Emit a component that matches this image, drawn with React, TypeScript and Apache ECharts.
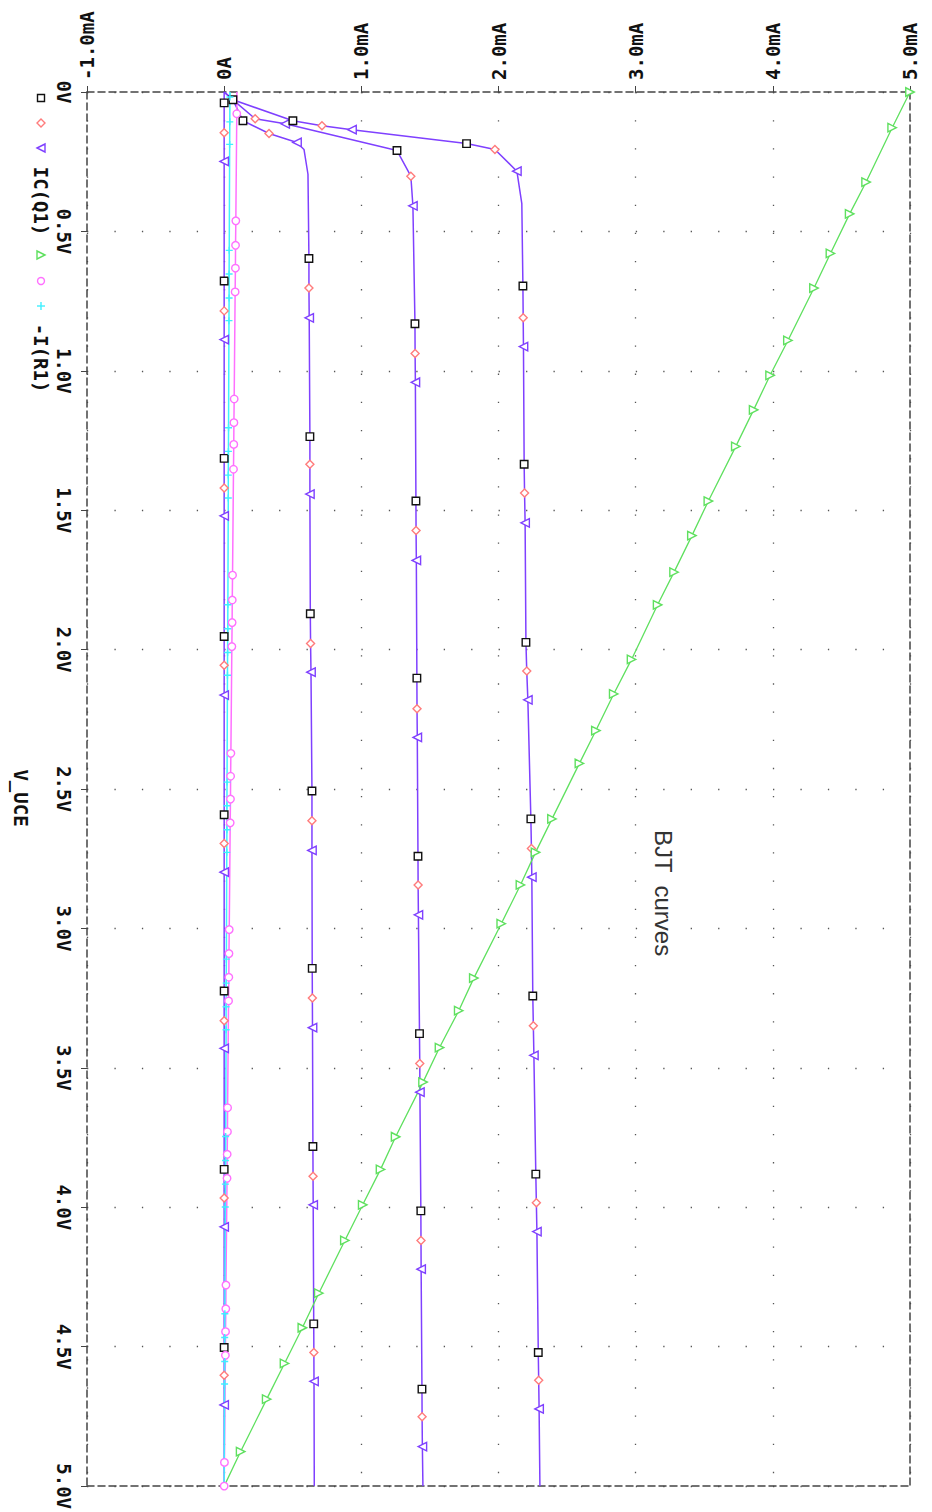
import React, { useEffect, useRef } from "react";
import * as echarts from "echarts";

// Axis ranges / ticks
const currentMin = -1; // mA
const currentMax = 5;
const currentStep = 1;
const voltageMin = 0; // V
const voltageMax = 5;
const voltageStep = 0.5;

const axisTitle = "V_UCE";
const plotNote = "BJT  curves";
const legendLabels = ["IC(Q1)", "-I(R1)"];

// Each point: [V_UCE (V), current (mA), marker code]
// marker codes: 0 none, 1 square, 2 diamond, 3 triangle (IC family)
//               4 green triangle, 5 circle, 6 plus (-I(R1) family)
const icCurveA: number[][] = [
  [0, 0, 0], [0.039, 0, 1], [0.146, 0, 2], [0.249, 0, 3],
  [0.678, 0, 1], [0.785, 0, 2], [0.888, 0, 3],
  [1.314, 0, 1], [1.42, 0, 2], [1.52, 0, 3],
  [1.953, 0, 1], [2.056, 0, 2], [2.163, 0, 3],
  [2.592, 0, 1], [2.695, 0, 2], [2.798, 0, 3],
  [3.224, 0, 1], [3.331, 0, 2], [3.43, 0, 3],
  [3.864, 0, 1], [3.967, 0, 2], [4.07, 0, 3],
  [4.503, 0, 1], [4.602, 0, 2], [4.709, 0, 3],
  [5.0, 0, 0],
];

const icCurveB: number[][] = [
  [0, 0, 0], [0.028, 0.064, 0], [0.103, 0.137, 1], [0.149, 0.327, 2], [0.181, 0.531, 3],
  [0.206, 0.582, 0], [0.295, 0.611, 0],
  [0.597, 0.618, 1], [0.703, 0.618, 2], [0.81, 0.62, 3],
  [1.236, 0.625, 1], [1.335, 0.625, 2], [1.442, 0.625, 3],
  [1.871, 0.628, 1], [1.978, 0.63, 2], [2.081, 0.633, 3],
  [2.507, 0.64, 1], [2.614, 0.64, 2], [2.72, 0.64, 3],
  [3.143, 0.642, 1], [3.249, 0.643, 2], [3.356, 0.644, 3],
  [3.782, 0.647, 1], [3.889, 0.648, 2], [3.991, 0.649, 3],
  [4.418, 0.653, 1], [4.521, 0.654, 2], [4.624, 0.655, 3],
  [5.0, 0.657, 0],
];

const icCurveC: number[][] = [
  [0, 0, 0], [0.028, 0.064, 1], [0.096, 0.226, 2], [0.114, 0.445, 3],
  [0.21, 1.26, 1], [0.302, 1.361, 2], [0.408, 1.376, 3],
  [0.831, 1.391, 1], [0.938, 1.392, 2], [1.041, 1.394, 3],
  [1.467, 1.398, 1], [1.573, 1.399, 2], [1.68, 1.401, 3],
  [2.102, 1.405, 1], [2.212, 1.406, 2], [2.315, 1.408, 3],
  [2.741, 1.413, 1], [2.844, 1.414, 2], [2.951, 1.416, 3],
  [3.377, 1.424, 1], [3.484, 1.426, 2], [3.587, 1.427, 3],
  [4.013, 1.434, 1], [4.119, 1.435, 2], [4.222, 1.436, 3],
  [4.652, 1.442, 1], [4.751, 1.443, 2], [4.858, 1.445, 3],
  [5.0, 1.449, 0],
];

const icCurveD: number[][] = [
  [0, 0, 0], [0.028, 0.064, 0], [0.103, 0.501, 1], [0.121, 0.713, 2], [0.135, 0.932, 3],
  [0.185, 1.767, 1], [0.206, 1.974, 2], [0.284, 2.134, 3], [0.4, 2.17, 0],
  [0.696, 2.178, 1], [0.81, 2.18, 2], [0.913, 2.182, 3],
  [1.335, 2.187, 1], [1.438, 2.19, 2], [1.545, 2.194, 3],
  [1.974, 2.2, 1], [2.077, 2.206, 2], [2.18, 2.214, 3],
  [2.607, 2.236, 1], [2.713, 2.24, 2], [2.816, 2.243, 3],
  [3.242, 2.25, 1], [3.349, 2.254, 2], [3.455, 2.258, 3],
  [3.881, 2.272, 1], [3.984, 2.276, 2], [4.087, 2.28, 3],
  [4.521, 2.29, 1], [4.62, 2.293, 2], [4.723, 2.296, 3],
  [5.0, 2.302, 0],
];

const loadLineGreen: number[][] = [
  [0, 5.0, 4], [0.128, 4.87, 4],
  [0.323, 4.68, 4], [0.437, 4.56, 4], [0.579, 4.42, 4], [0.703, 4.3, 4],
  [0.891, 4.11, 4], [1.016, 3.98, 4], [1.14, 3.86, 4], [1.271, 3.73, 4],
  [1.467, 3.53, 4], [1.591, 3.41, 4], [1.722, 3.28, 4], [1.839, 3.16, 4],
  [2.035, 2.97, 4], [2.159, 2.84, 4], [2.29, 2.71, 4], [2.408, 2.59, 4],
  [2.607, 2.39, 4], [2.727, 2.27, 4], [2.844, 2.16, 4], [2.983, 2.02, 4],
  [3.178, 1.82, 4], [3.295, 1.71, 4], [3.427, 1.57, 4], [3.551, 1.45, 4],
  [3.747, 1.25, 4], [3.864, 1.14, 4], [3.991, 1.01, 4], [4.119, 0.88, 4],
  [4.308, 0.69, 4], [4.432, 0.57, 4], [4.56, 0.44, 4], [4.688, 0.31, 4],
  [4.876, 0.12, 4], [5.0, 0, 0],
];

const loadLineMagenta: number[][] = [
  [0, 0.093, 0], [0.078, 0.092, 5],
  [0.462, 0.085, 5], [0.55, 0.083, 5], [0.632, 0.082, 5], [0.717, 0.08, 5],
  [1.101, 0.073, 5], [1.186, 0.071, 5], [1.264, 0.07, 5], [1.353, 0.068, 5],
  [1.733, 0.061, 5], [1.822, 0.059, 5], [1.903, 0.058, 5], [1.989, 0.056, 5],
  [2.372, 0.049, 5], [2.454, 0.047, 5], [2.536, 0.046, 5], [2.621, 0.044, 5],
  [3.004, 0.037, 5], [3.09, 0.035, 5], [3.175, 0.034, 5], [3.26, 0.032, 5],
  [3.643, 0.025, 5], [3.729, 0.024, 5], [3.81, 0.022, 5], [3.896, 0.021, 5],
  [4.279, 0.013, 5], [4.364, 0.012, 5], [4.446, 0.01, 5], [4.531, 0.009, 5],
  [4.915, 0.002, 5], [5.0, 0, 5],
];

const loadLineCyan: number[][] = [
  [0, 0.042, 0], [0.018, 0.042, 6], [0.107, 0.041, 6], [0.188, 0.04, 6],
  [0.568, 0.037, 6], [0.653, 0.036, 6], [0.739, 0.036, 6], [0.82, 0.035, 6],
  [1.204, 0.032, 6], [1.289, 0.031, 6], [1.374, 0.03, 6], [1.456, 0.03, 6],
  [1.839, 0.027, 6], [1.925, 0.026, 6], [2.01, 0.025, 6], [2.092, 0.024, 6],
  [2.475, 0.021, 6], [2.56, 0.02, 6], [2.646, 0.02, 6], [2.727, 0.019, 6],
  [3.11, 0.016, 6], [3.196, 0.015, 6], [3.281, 0.014, 6], [3.363, 0.014, 6],
  [3.746, 0.011, 6], [3.832, 0.01, 6], [3.917, 0.009, 6], [3.999, 0.008, 6],
  [4.382, 0.005, 6], [4.467, 0.004, 6], [4.553, 0.004, 6], [4.634, 0.003, 6],
  [5.0, 0, 0],
];

const PURPLE = "#7f40ff";
const GREEN = "#5fe05f";
const MAGENTA = "#ff70ff";
const CYAN = "#3ff0ff";
const SALMON = "#ff7c7c";
const BLACK = "#111";

const MONO = "'DejaVu Sans Mono', 'Liberation Mono', monospace";
const LABEL_SIZE = 19;

const markerStyles: Record<number, { symbol: string; size: number; rotate: number; stroke: string }> = {
  1: { symbol: "rect", size: 7.5, rotate: 0, stroke: BLACK },
  2: { symbol: "diamond", size: 8, rotate: 0, stroke: SALMON },
  3: { symbol: "triangle", size: 8.5, rotate: 90, stroke: PURPLE },
  4: { symbol: "triangle", size: 8.5, rotate: -90, stroke: GREEN },
  5: { symbol: "circle", size: 7.5, rotate: 0, stroke: MAGENTA },
  6: { symbol: "path://M5,0L5,10M0,5L10,5", size: 7, rotate: 0, stroke: CYAN },
};

function toSeriesData(points: number[][]) {
  return points.map((p) => {
    const m = markerStyles[p[2]];
    if (!m) return { value: [p[1], p[0]], symbol: "none" };
    return {
      value: [p[1], p[0]],
      symbol: m.symbol,
      symbolSize: m.size,
      symbolRotate: m.rotate,
      itemStyle: {
        color: p[2] === 6 ? "none" : "#fff",
        borderColor: m.stroke,
        borderWidth: 1.4,
      },
    };
  });
}

function lineSeries(points: number[][], color: string, width: number) {
  return {
    type: "line",
    xAxisIndex: 0,
    yAxisIndex: 0,
    data: toSeriesData(points),
    showSymbol: true,
    showAllSymbol: true,
    lineStyle: { color, width },
    itemStyle: { color },
    silent: true,
    animation: false,
  };
}

const dashedFrame = { color: "#444", width: 1.5, type: [7, 4] };

function rotatedText(text: string, x: number, y: number, font: string, fill: string) {
  return {
    type: "text",
    x,
    y,
    rotation: -Math.PI / 2,
    style: { text, font, fill, align: "center", verticalAlign: "middle" },
  };
}

export default function App() {
  const ref = useRef<HTMLDivElement>(null);

  useEffect(() => {
    if (!ref.current) return;
    const chart = echarts.init(ref.current, undefined, { renderer: "svg" });
    const monoFont = `bold ${LABEL_SIZE}px ${MONO}`;

    const legendGraphics: any[] = [
      {
        type: "rect",
        shape: { x: 37.5, y: 94.5, width: 7, height: 7 },
        style: { fill: "#fff", stroke: BLACK, lineWidth: 1.4 },
      },
      {
        type: "polygon",
        shape: { points: [[41, 119], [45, 123], [41, 127], [37, 123]] },
        style: { fill: "#fff", stroke: SALMON, lineWidth: 1.4 },
      },
      {
        type: "polygon",
        shape: { points: [[37, 148], [45, 144], [45, 152]] },
        style: { fill: "#fff", stroke: PURPLE, lineWidth: 1.4 },
      },
      rotatedText(legendLabels[0], 41, 201, monoFont, BLACK),
      {
        type: "polygon",
        shape: { points: [[45, 255], [37, 251], [37, 259]] },
        style: { fill: "#fff", stroke: GREEN, lineWidth: 1.4 },
      },
      {
        type: "circle",
        shape: { cx: 41, cy: 281, r: 3.5 },
        style: { fill: "#fff", stroke: MAGENTA, lineWidth: 1.4 },
      },
      {
        type: "line",
        shape: { x1: 41, y1: 302, x2: 41, y2: 310 },
        style: { stroke: CYAN, lineWidth: 1.4 },
      },
      {
        type: "line",
        shape: { x1: 37, y1: 306, x2: 45, y2: 306 },
        style: { stroke: CYAN, lineWidth: 1.4 },
      },
      rotatedText(legendLabels[1], 41, 358, monoFont, BLACK),
      rotatedText(axisTitle, 21, 798, monoFont, BLACK),
      rotatedText(plotNote, 663, 893, `24px 'Liberation Sans', Arial, sans-serif`, "#333"),
    ];

    const option: any = {
      animation: false,
      backgroundColor: "#fff",
      grid: { left: 87, right: 22, top: 92, bottom: 12, containLabel: false },
      xAxis: [
        {
          type: "value",
          position: "top",
          min: currentMin,
          max: currentMax,
          interval: currentStep,
          axisLine: { show: true, onZero: false, lineStyle: dashedFrame },
          axisTick: { show: true, length: 6, lineStyle: { color: "#444", width: 1 } },
          axisLabel: {
            rotate: -90,
            margin: 12,
            color: BLACK,
            fontFamily: MONO,
            fontWeight: "bold",
            fontSize: LABEL_SIZE,
            formatter: (v: number) => (v === 0 ? "0A" : v.toFixed(1) + "mA"),
          },
          splitLine: {
            show: true,
            lineStyle: { color: "#555", width: 1.3, type: [1.3, 26.86] },
          },
        },
        {
          type: "value",
          position: "bottom",
          min: currentMin,
          max: currentMax,
          interval: currentStep,
          axisLine: { show: true, onZero: false, lineStyle: dashedFrame },
          axisTick: { show: false },
          axisLabel: { show: false },
          splitLine: { show: false },
        },
      ],
      yAxis: [
        {
          type: "value",
          position: "left",
          inverse: true,
          min: voltageMin,
          max: voltageMax,
          interval: voltageStep,
          axisLine: { show: true, onZero: false, lineStyle: dashedFrame },
          axisTick: { show: true, length: 6, lineStyle: { color: "#444", width: 1 } },
          axisLabel: {
            rotate: -90,
            margin: 14,
            color: BLACK,
            fontFamily: MONO,
            fontWeight: "bold",
            fontSize: LABEL_SIZE,
            formatter: (v: number) => (v === 0 ? "0V" : v.toFixed(1) + "V"),
          },
          splitLine: {
            show: true,
            lineStyle: { color: "#555", width: 1.3, type: [1.3, 26.14] },
          },
        },
        {
          type: "value",
          position: "right",
          inverse: true,
          min: voltageMin,
          max: voltageMax,
          interval: voltageStep,
          axisLine: { show: true, onZero: false, lineStyle: dashedFrame },
          axisTick: { show: false },
          axisLabel: { show: false },
          splitLine: { show: false },
        },
      ],
      series: [
        lineSeries(icCurveA, PURPLE, 1.5),
        lineSeries(icCurveB, PURPLE, 1.5),
        lineSeries(icCurveC, PURPLE, 1.5),
        lineSeries(icCurveD, PURPLE, 1.5),
        lineSeries(loadLineGreen, GREEN, 1.3),
        lineSeries(loadLineMagenta, MAGENTA, 1.5),
        lineSeries(loadLineCyan, CYAN, 1.5),
      ],
      graphic: legendGraphics,
    };

    chart.setOption(option);
    return () => chart.dispose();
  }, []);

  return (
    <div
      ref={ref}
      style={{ position: "absolute", left: 0, top: 0, width: 932, height: 1512 }}
    />
  );
}
